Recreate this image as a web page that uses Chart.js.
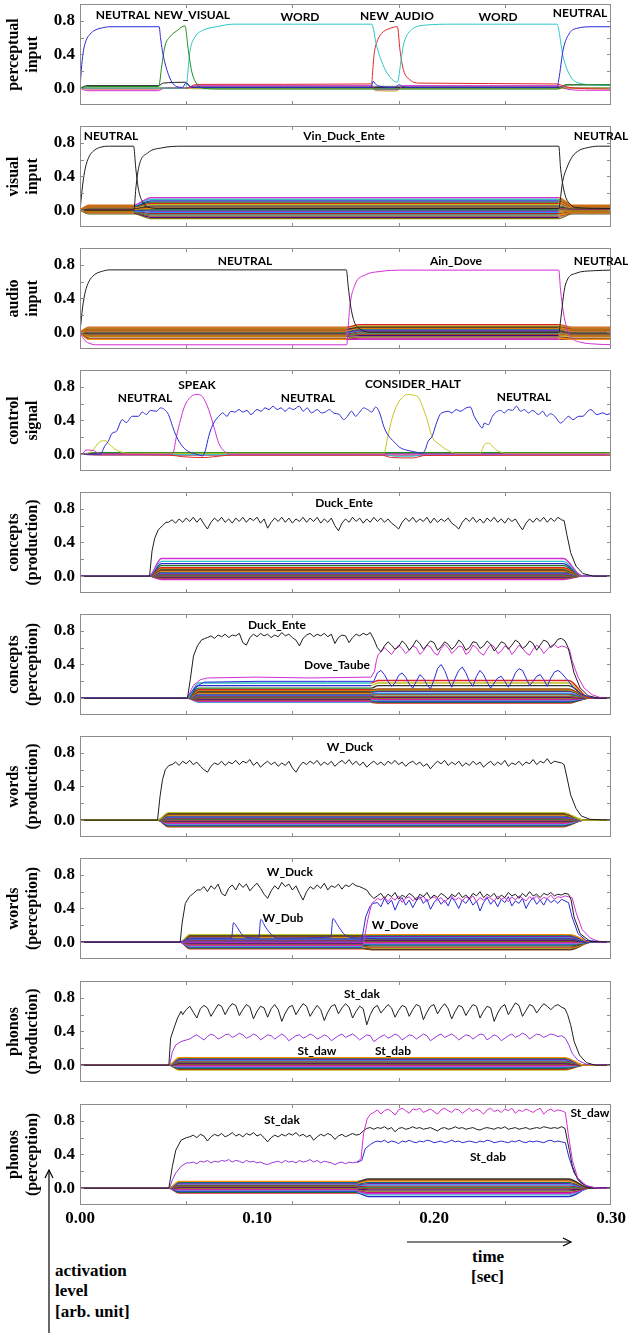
<!DOCTYPE html>
<html>
<head>
<meta charset="utf-8">
<script src="https://cdn.jsdelivr.net/npm/chart.js@4.4.1/dist/chart.umd.min.js"></script>
<style>
  body { margin: 0; background: #fff; width: 630px; height: 1335px; position: relative; overflow: hidden; }
  .panel { position: absolute; left: 0; width: 630px; }
  .lbl { position: absolute; font: bold 17px "Liberation Serif", serif; color: #000; line-height: 20px; white-space: nowrap; }
  svg { position: absolute; left: 0; top: 0; }
</style>
</head>
<body>
<svg width="630" height="1335">
  <line x1="407" y1="1242" x2="571" y2="1242" stroke="#000" stroke-width="1.2"/>
  <polyline points="563,1238 571,1242 563,1246" fill="none" stroke="#000" stroke-width="1.2"/>
  <line x1="49" y1="1170" x2="49" y2="1333" stroke="#000" stroke-width="1.2"/>
  <polyline points="45,1178 49,1170 53,1178" fill="none" stroke="#000" stroke-width="1.2"/>
</svg>
<div class="lbl" style="left:472px;top:1247px">time</div>
<div class="lbl" style="left:471px;top:1267px">[sec]</div>
<div class="lbl" style="left:55px;top:1261px">activation</div>
<div class="lbl" style="left:55px;top:1281px">level</div>
<div class="lbl" style="left:55px;top:1302px">[arb. unit]</div>
<script>
// axis setup
const xTickVals = [0, 0.1, 0.2, 0.3];
const yTickVals = [0, 0.4, 0.8];
const xMinorTicks = [0.06, 0.12, 0.18, 0.24];
const yMinorTicks = [0, 0.2, 0.4, 0.6, 0.8];
const panelTops = [4, 126, 248, 370, 492, 614, 736, 858, 981, 1104];
const panelTitles = [
  ['perceptual', 'input'], ['visual', 'input'], ['audio', 'input'], ['control', 'signal'],
  ['concepts', '(production)'], ['concepts', '(perception)'], ['words', '(production)'],
  ['words', '(perception)'], ['phonos', '(production)'], ['phonos', '(perception)']
];

const BLACK = '#1e1e1e', BLUE = '#2a2ad6', MAGENTA = '#d22ed2', CYAN = '#2ec6c6', GREEN = '#1c8c1c',
  RED = '#e02626', YELLOW = '#c4c41c', PURPLE = '#9a36dc', GRAY = '#9a9a9a';
const bandPalette = ['#d030d0', '#30c0c0', '#2828d0', '#1a7a1a', '#e02020', '#c0c020', '#303030', '#8b4513',
  '#ff8c00', '#007070', '#7a1fa2', '#1e90ff', '#b22222', '#2e8b57', '#a0522d', '#4b0082', '#808000', '#c71585'];
const warmPalette = ['#d2691e', '#b8860b', '#8b4513', '#ff8c00', '#a0522d', '#cd853f', '#556b2f', '#3a3a3a',
  '#b03060', '#6b8e23'];

// ---- panel 1: perceptual input
const p1Neutral = [[0,0],[0.001,0.28],[0.002,0.45],[0.0035,0.57],[0.0056,0.64],[0.0085,0.69],[0.0113,0.71],[0.017,0.73],
  [0.0447,0.73],[0.0455,0.6],[0.0465,0.45],[0.048,0.3],[0.05,0.16],[0.052,0.07],[0.0545,0.02],[0.058,0.01],[0.0597,0.06],
  [0.062,0.02],[0.065,0.01],[0.1645,0.01],[0.1655,0.08],[0.168,0.03],[0.178,0.01],[0.18,0.04],[0.184,0.01],[0.2695,0.01],
  [0.2705,0.1],[0.273,0.46],[0.2768,0.66],[0.2806,0.71],[0.29,0.73],[0.3,0.73]];
const p1NewVisual = [[0,0],[0.004,0.02],[0.0445,0.02],[0.0461,0.25],[0.048,0.5],[0.0508,0.61],[0.0546,0.68],[0.0593,0.74],
  [0.0612,0.45],[0.0631,0.2],[0.066,0.05],[0.0697,0.0],[0.08,-0.01],[0.27,-0.01],[0.275,0.04],[0.3,0.04]];
const p1Word = [[0,0],[0.0597,0],[0.0622,0.45],[0.065,0.61],[0.0697,0.69],[0.0772,0.73],[0.0866,0.76],[0.1648,0.76],
  [0.1676,0.5],[0.1704,0.32],[0.1732,0.19],[0.1793,0.07],[0.1815,0.35],[0.1826,0.5],[0.1845,0.62],[0.1882,0.71],
  [0.1957,0.75],[0.21,0.76],[0.2694,0.76],[0.273,0.37],[0.2768,0.15],[0.2806,0.07],[0.29,0.04],[0.3,0.03]];
const p1NewAudio = [[0,0],[0.004,-0.01],[0.044,-0.01],[0.05,0],[0.0597,0],[0.066,0.045],[0.1648,0.05],[0.1652,0.15],
  [0.1661,0.39],[0.1676,0.54],[0.1704,0.65],[0.1751,0.71],[0.1793,0.73],[0.1808,0.45],[0.1827,0.22],[0.1864,0.1],
  [0.1921,0.06],[0.2694,0.05],[0.274,0.02],[0.28,0.0],[0.3,-0.01]];
const p1Pink = [[0,0],[0.004,-0.03],[0.0445,-0.03],[0.047,0.0],[0.0597,0.0],[0.066,0.03],[0.1648,0.03],[0.167,-0.02],
  [0.179,-0.02],[0.183,0.03],[0.2694,0.03],[0.275,-0.01],[0.285,-0.025],[0.3,-0.025]];
const p1Dark = [[0,0],[0.004,0.03],[0.0445,0.03],[0.047,0.06],[0.0597,0.07],[0.063,0.01],[0.27,0.01],[0.275,0.04],[0.3,0.04]];
const p1Olive = [[0,0],[0.1645,0],[0.167,-0.03],[0.178,-0.035],[0.182,0],[0.3,0]];
const p1BandTimes = [0, 0.0597, 0.066, 0.2694, 0.275, 0.3];
const p1BandLevels = [0.02, 0.012, 0.004, -0.004];

// ---- panel 2: visual input
const p2Neutral = [[0,0],[0.0015,0.3],[0.003,0.5],[0.005,0.63],[0.008,0.71],[0.012,0.75],[0.016,0.76],[0.0303,0.76],
  [0.0315,0.5],[0.033,0.25],[0.0353,0.1],[0.038,0.04],[0.045,0.02],[0.2705,0.02],[0.2715,0.15],[0.2725,0.32],[0.275,0.5],
  [0.2783,0.64],[0.282,0.71],[0.2862,0.74],[0.293,0.76],[0.3,0.76]];
const p2Duck = [[0,0],[0.0305,0],[0.0315,0.25],[0.0333,0.52],[0.0383,0.68],[0.0462,0.74],[0.0581,0.76],[0.2705,0.76],
  [0.2715,0.5],[0.2728,0.3],[0.2745,0.15],[0.277,0.07],[0.28,0.03],[0.3,0.02]];
const p2BandTimes = [0, 0.005, 0.0305, 0.04, 0.2705, 0.278, 0.3];
const p2BandLevels = [[0.06,0.15],[0.055,0.13],[0.05,0.11],[0.045,0.095],[0.04,0.08],[0.03,0.065],[0.025,0.05],[0.02,0.035],
  [0.01,0.02],[0.005,0.005],[0.0,-0.01],[-0.01,-0.025],[-0.015,-0.04],[-0.02,-0.055],[-0.03,-0.07],[-0.035,-0.085],[-0.045,-0.1]];

// ---- panel 3: audio input
const p3Neutral = [[0,0],[0.0015,0.3],[0.003,0.48],[0.005,0.6],[0.008,0.68],[0.012,0.72],[0.017,0.74],[0.1505,0.74],
  [0.1515,0.55],[0.153,0.3],[0.155,0.12],[0.158,0.04],[0.165,0.0],[0.2707,0.0],[0.2713,0.1],[0.2742,0.56],[0.2802,0.7],
  [0.2901,0.73],[0.3,0.737]];
const p3Dove = [[0,0],[0.002,-0.08],[0.005,-0.13],[0.01,-0.15],[0.1507,-0.15],[0.1515,0.05],[0.1523,0.28],[0.1553,0.56],
  [0.1612,0.68],[0.1691,0.72],[0.183,0.737],[0.2705,0.737],[0.2715,0.5],[0.273,0.25],[0.275,0.05],[0.278,-0.07],
  [0.283,-0.12],[0.29,-0.14],[0.3,-0.15]];
const p3BandTimes = [0, 0.005, 0.1505, 0.158, 0.2705, 0.278, 0.3];
const p3BandLevels = [[0.06,0.09],[0.05,0.075],[0.04,0.065],[0.03,0.055],[0.02,0.045],[0.01,0.035],[0.0,0.025],
  [-0.01,0.015],[-0.02,0.005],[-0.03,-0.01],[-0.04,-0.025],[-0.05,-0.04],[-0.07,-0.055],[-0.085,-0.07],[-0.085,-0.085]];

// ---- panel 4: control signal
const p4Neutral = [[0,0],[0.0114,0.0],[0.0141,0.1],[0.0159,0.15],[0.0182,0.25],[0.0205,0.27],[0.0239,0.41],[0.0261,0.375],
  [0.0295,0.45],[0.033,0.45],[0.0352,0.5],[0.0375,0.47],[0.0398,0.52],[0.0432,0.51],[0.0455,0.55],[0.0477,0.53],[0.05,0.47],
  [0.0523,0.33],[0.0545,0.21],[0.058,0.09],[0.0614,0.03],[0.0659,0.0],[0.0693,-0.02],[0.0709,0.05],[0.0727,0.21],[0.075,0.35],
  [0.0784,0.45],[0.0807,0.49],[0.083,0.45],[0.0852,0.51],[0.0875,0.5],[0.0898,0.53],[0.092,0.5],[0.0943,0.52],[0.0966,0.47],
  [0.1,0.53],[0.1023,0.51],[0.1045,0.55],[0.1068,0.53],[0.1091,0.57],[0.1114,0.53],[0.1136,0.55],[0.1159,0.51],[0.1182,0.55],
  [0.1205,0.53],[0.1239,0.57],[0.1261,0.51],[0.1284,0.55],[0.1307,0.49],[0.1341,0.53],[0.1364,0.49],[0.1386,0.5],[0.1409,0.53],
  [0.1432,0.49],[0.1466,0.47],[0.1489,0.41],[0.1511,0.45],[0.1534,0.51],[0.1557,0.45],[0.158,0.5],[0.1602,0.55],[0.1625,0.53],
  [0.1648,0.5],[0.167,0.56],[0.1693,0.49],[0.1716,0.33],[0.1739,0.23],[0.1773,0.15],[0.1807,0.08],[0.1841,0.05],[0.1886,0.03],
  [0.1932,0.01],[0.195,0.05],[0.1966,0.15],[0.1989,0.21],[0.2011,0.35],[0.2034,0.47],[0.2057,0.5],[0.208,0.51],[0.2102,0.49],
  [0.2125,0.53],[0.2148,0.51],[0.2182,0.55],[0.2205,0.56],[0.2227,0.45],[0.225,0.37],[0.2273,0.31],[0.2284,0.37],[0.2307,0.35],
  [0.233,0.45],[0.2352,0.5],[0.2375,0.52],[0.2398,0.49],[0.242,0.53],[0.2443,0.52],[0.2466,0.57],[0.2489,0.51],[0.2511,0.53],
  [0.2534,0.49],[0.2557,0.52],[0.2591,0.47],[0.2614,0.51],[0.2636,0.45],[0.2659,0.48],[0.2682,0.45],[0.2716,0.37],[0.2739,0.41],
  [0.2761,0.45],[0.2784,0.41],[0.2818,0.45],[0.2841,0.45],[0.2864,0.5],[0.2886,0.53],[0.292,0.47],[0.2955,0.49],[0.2977,0.47],
  [0.3,0.49]];
const p4Speak = [[0,0],[0.0011,0],[0.0034,0.05],[0.008,0.04],[0.0114,0.0],[0.0523,0.0],[0.0545,0.21],[0.0568,0.41],
  [0.0591,0.57],[0.0625,0.68],[0.0659,0.71],[0.0693,0.68],[0.0727,0.53],[0.0761,0.29],[0.0784,0.13],[0.0818,0.03],
  [0.0852,0.0],[0.3,0.0]];
const p4Halt = [[0,0],[0.0023,0],[0.0068,0.04],[0.0114,0.15],[0.0141,0.16],[0.017,0.11],[0.0205,0.05],[0.0273,0.01],
  [0.1716,0.01],[0.1739,0.21],[0.1761,0.41],[0.1795,0.6],[0.183,0.69],[0.1852,0.71],[0.1886,0.7],[0.1909,0.68],[0.1955,0.45],
  [0.1989,0.21],[0.2034,0.11],[0.2091,0.03],[0.2125,0.01],[0.2261,0.01],[0.2284,0.11],[0.2307,0.13],[0.2352,0.05],
  [0.2409,0.01],[0.3,0.01]];
const p4Red = [[0,0],[0.05,-0.01],[0.058,-0.03],[0.07,-0.04],[0.08,-0.02],[0.086,-0.01],[0.17,-0.01],[0.176,-0.04],
  [0.188,-0.045],[0.195,-0.015],[0.3,-0.01]];
const p4Cyan = [[0,0],[0.01,-0.005],[0.172,-0.005],[0.178,-0.025],[0.188,-0.025],[0.194,-0.005],[0.3,-0.005]];
const p4Green = [[0,0],[0.01,0.02],[0.3,0.02]];
const p4Black = [[0,0],[0.01,0.012],[0.3,0.012]];
const p4DarkRed = [[0,0],[0.01,-0.012],[0.3,-0.012]];

// ---- noisy activations, sampled every 2 ms
const noiseStep = 0.002;

// panel 5: concepts (production)
const p5DuckRise = [[0,0],[0.0393,0],[0.0407,0.3],[0.0422,0.45],[0.0442,0.55],[0.0466,0.6],[0.0486,0.64]];
const p5DuckStart = 0.05;
const p5Duck = [0.64,0.67,0.63,0.68,0.64,0.69,0.65,0.70,0.64,0.69,
  0.62,0.56,0.64,0.69,0.65,0.70,0.64,0.68,0.63,0.69,
  0.65,0.70,0.64,0.69,0.66,0.70,0.63,0.68,0.57,0.64,
  0.69,0.65,0.70,0.64,0.69,0.63,0.68,0.65,0.70,0.64,
  0.69,0.65,0.70,0.63,0.68,0.64,0.69,0.60,0.54,0.63,
  0.68,0.64,0.70,0.65,0.69,0.63,0.68,0.64,0.70,0.65,
  0.69,0.64,0.68,0.63,0.60,0.56,0.64,0.69,0.65,0.70,
  0.64,0.68,0.65,0.70,0.63,0.69,0.64,0.68,0.65,0.69,
  0.63,0.60,0.56,0.64,0.69,0.65,0.70,0.64,0.68,0.63,
  0.69,0.65,0.70,0.64,0.68,0.63,0.69,0.65,0.68,0.61,
  0.55,0.63,0.68,0.64,0.69,0.65,0.70,0.64,0.69,0.65,0.70,0.67];
const p5DuckFall = [[0.2735,0.66],[0.2752,0.48],[0.2772,0.28],[0.2802,0.12],[0.2842,0.03],[0.2901,0],[0.3,0]];
const p5BandTimes = [0, 0.039, 0.046, 0.273, 0.284, 0.3];
const p5BandLevels = [0.21, 0.175, 0.15, 0.125, 0.1, 0.09, 0.08, 0.07, 0.06, 0.05, 0.04, 0.03, 0.02, 0.01, 0.0,
  -0.01, -0.02, -0.03, -0.04];

// panel 6: concepts (perception)
const p6DuckRise = [[0,0],[0.0607,0],[0.0623,0.22],[0.0641,0.5],[0.0663,0.62],[0.0686,0.69],[0.0705,0.71]];
const p6DuckStart = 0.072;
const p6Duck = [0.72,0.74,0.71,0.75,0.73,0.76,0.72,0.75,0.74,0.77,
  0.66,0.63,0.72,0.76,0.73,0.77,0.74,0.76,0.72,0.75,
  0.73,0.78,0.74,0.76,0.72,0.69,0.62,0.71,0.75,0.77,
  0.73,0.76,0.74,0.77,0.73,0.76,0.65,0.72,0.75,0.74,
  0.66,0.72,0.76,0.74,0.77,0.75,0.78,
  0.70,0.60,0.55,0.62,0.67,0.63,0.58,0.61,0.68,0.64,
  0.57,0.62,0.69,0.65,0.58,0.63,0.68,0.66,0.57,0.61,
  0.67,0.64,0.58,0.62,0.69,0.65,0.57,0.60,0.67,0.66,
  0.59,0.62,0.68,0.64,0.56,0.61,0.67,0.65,0.58,0.63,
  0.69,0.66,0.59,0.62,0.68,0.65,0.57,0.63,0.69,0.67,
  0.60,0.64,0.70,0.71,0.68];
const p6DuckFall = [[0.2758,0.6],[0.2775,0.45],[0.2791,0.3],[0.2826,0.12],[0.2871,0.03],[0.2927,0],[0.3,0]];
const p6DoveRise = [[0,0],[0.0605,0],[0.064,0.15],[0.068,0.22],[0.072,0.24],[0.1,0.25],[0.13,0.24],[0.1645,0.25],
  [0.1664,0.32],[0.1675,0.45],[0.1685,0.52]];
const p6DoveStart = 0.17;
const p6Dove = [0.55,0.60,0.56,0.52,0.58,0.63,0.59,0.53,0.57,0.62,
  0.60,0.52,0.56,0.63,0.61,0.54,0.51,0.59,0.64,0.60,
  0.53,0.57,0.62,0.61,0.52,0.55,0.63,0.60,0.54,0.51,
  0.58,0.64,0.61,0.53,0.56,0.62,0.60,0.52,0.57,0.63,
  0.59,0.54,0.51,0.58,0.63,0.60,0.53,0.58,0.62,0.64,
  0.60,0.62,0.61];
const p6DoveFall = [[0.2765,0.58],[0.278,0.45],[0.2814,0.25],[0.2848,0.12],[0.2894,0.04],[0.295,0],[0.3,0]];
const p6BlueRise = [[0,0],[0.0605,0],[0.065,0.13],[0.07,0.19],[0.1,0.2],[0.14,0.2],[0.1645,0.2]];
const p6BlueStart = 0.166;
const p6Blue = [0.20,0.30,0.33,0.28,0.20,0.14,0.18,0.27,0.30,0.25,
  0.17,0.12,0.20,0.28,0.24,0.16,0.11,0.22,0.35,0.40,
  0.33,0.22,0.13,0.24,0.33,0.37,0.30,0.20,0.14,0.26,
  0.33,0.28,0.19,0.12,0.18,0.24,0.26,0.20,0.13,0.20,
  0.30,0.35,0.33,0.24,0.15,0.20,0.26,0.28,0.22,0.14,
  0.24,0.31,0.33,0.30,0.25,0.20];
const p6BlueFall = [[0.279,0.12],[0.283,0.05],[0.29,0],[0.3,0]];
const p6BandTimes = [0, 0.0605, 0.067, 0.1645, 0.1685, 0.276, 0.288, 0.3];
const p6BandLevels = [[0.18,0.21],[0.15,0.18],[0.12,0.15],[0.1,0.11],[0.09,0.1],[0.08,0.09],[0.07,0.08],[0.06,0.06],
  [0.05,0.05],[0.04,0.04],[0.03,0.02],[0.02,0.01],[0.01,0.0],[0.0,-0.01],[-0.01,-0.02],[-0.02,-0.03],[-0.03,-0.04],
  [-0.04,-0.05],[-0.05,-0.06]];

// panel 7: words (production)
const p7DuckRise = [[0,0],[0.0438,0],[0.0452,0.28],[0.0466,0.48],[0.0482,0.6],[0.0502,0.65]];
const p7DuckStart = 0.052;
const p7Duck = [0.66,0.69,0.65,0.70,0.67,0.71,0.66,0.69,0.64,0.60,
  0.57,0.64,0.68,0.66,0.70,0.65,0.69,0.67,0.71,0.66,
  0.70,0.68,0.72,0.65,0.69,0.63,0.67,0.70,0.66,0.69,
  0.64,0.68,0.65,0.70,0.62,0.57,0.64,0.69,0.66,0.70,
  0.67,0.71,0.65,0.69,0.66,0.70,0.64,0.68,0.71,0.67,
  0.72,0.66,0.70,0.65,0.69,0.63,0.67,0.70,0.66,0.69,
  0.65,0.70,0.67,0.71,0.66,0.69,0.64,0.68,0.70,0.66,
  0.69,0.64,0.67,0.61,0.66,0.70,0.67,0.71,0.65,0.69,
  0.66,0.70,0.64,0.68,0.65,0.70,0.66,0.69,0.63,0.67,
  0.70,0.65,0.69,0.66,0.71,0.64,0.68,0.66,0.70,0.65,
  0.69,0.67,0.72,0.66,0.70,0.68,0.73,0.67,0.70,0.69,0.68];
const p7DuckFall = [[0.2735,0.66],[0.2752,0.5],[0.2772,0.3],[0.2802,0.14],[0.2832,0.05],[0.2881,0.01],[0.3,0]];
const p7BandTimes = [0, 0.0438, 0.05, 0.273, 0.285, 0.3];
const p7BandLevels = [0.09, 0.08, 0.07, 0.06, 0.05, 0.04, 0.03, 0.02, 0.01, 0.0, -0.01, -0.02, -0.03, -0.04, -0.05,
  -0.06, -0.07, -0.08];

// panel 8: words (perception)
const p8DuckRise = [[0,0],[0.0566,0],[0.0577,0.23],[0.0595,0.46],[0.0618,0.54],[0.0641,0.58],[0.0662,0.62]];
const p8DuckStart = 0.068;
const p8Duck = [0.62,0.66,0.60,0.67,0.63,0.69,0.58,0.55,0.64,0.68,
  0.62,0.70,0.65,0.69,0.61,0.66,0.70,0.64,0.57,0.52,
  0.61,0.67,0.63,0.71,0.66,0.69,0.62,0.67,0.58,0.50,
  0.60,0.66,0.63,0.68,0.64,0.70,0.62,0.67,0.65,0.69,
  0.63,0.68,0.66,0.70,0.67,0.66,
  0.64,0.62,0.56,0.52,0.55,0.58,0.52,0.57,0.54,0.59,
  0.51,0.56,0.53,0.58,0.55,0.50,0.57,0.54,0.59,0.52,
  0.56,0.53,0.58,0.55,0.51,0.57,0.54,0.59,0.53,0.56,
  0.52,0.58,0.55,0.60,0.53,0.57,0.54,0.58,0.51,0.56,
  0.53,0.59,0.55,0.57,0.52,0.58,0.54,0.60,0.55,0.57,
  0.53,0.58,0.56,0.59,0.55,0.57,0.56,0.58,0.57];
const p8DuckFall = [[0.2775,0.5],[0.2791,0.3],[0.2826,0.1],[0.2882,0.01],[0.3,0]];
const p8DoveRise = [[0,0],[0.1603,0],[0.1626,0.27],[0.1648,0.46],[0.1682,0.52]];
const p8DoveStart = 0.17;
const p8Dove = [0.50,0.54,0.48,0.53,0.50,0.55,0.47,0.52,0.54,0.49,
  0.53,0.51,0.55,0.48,0.52,0.54,0.50,0.53,0.47,0.52,
  0.55,0.50,0.53,0.49,0.54,0.51,0.55,0.48,0.53,0.50,
  0.54,0.52,0.49,0.55,0.51,0.53,0.48,0.54,0.50,0.55,
  0.52,0.49,0.54,0.51,0.55,0.50,0.53,0.52,0.56,0.51,
  0.54,0.53,0.55,0.54,0.53];
const p8DoveFall = [[0.2803,0.35],[0.2837,0.15],[0.2882,0.05],[0.2939,0],[0.3,0]];
const p8BlueRise = [[0,0],[0.159,0],[0.1614,0.3],[0.1637,0.42],[0.1655,0.46]];
const p8BlueStart = 0.168;
const p8Blue = [0.47,0.42,0.52,0.45,0.50,0.38,0.48,0.53,0.44,0.50,
  0.41,0.49,0.54,0.46,0.51,0.39,0.47,0.52,0.45,0.50,
  0.43,0.53,0.48,0.40,0.50,0.46,0.52,0.44,0.49,0.37,
  0.47,0.53,0.45,0.50,0.42,0.51,0.47,0.54,0.43,0.49,
  0.46,0.52,0.40,0.48,0.53,0.45,0.50,0.44,0.52,0.47,
  0.50,0.46,0.51,0.49,0.47];
const p8BlueFall = [[0.278,0.3],[0.2814,0.1],[0.2859,0.02],[0.3,0]];
const p8Dub = [[0,0],[0.0566,0],[0.062,0.05],[0.0856,0.05],[0.0867,0.23],[0.089,0.17],[0.0912,0.1],[0.0935,0.06],
  [0.101,0.05],[0.1021,0.27],[0.1048,0.18],[0.1082,0.09],[0.1116,0.05],[0.1417,0.06],[0.1429,0.28],[0.1456,0.2],
  [0.149,0.1],[0.1524,0.06],[0.16,0.05],[0.17,0.04],[0.277,0.04],[0.285,0],[0.3,0]];
const p8BandTimes = [0, 0.0566, 0.062, 0.16, 0.165, 0.277, 0.289, 0.3];
const p8BandLevels = [[0.09,0.09],[0.08,0.08],[0.07,0.07],[0.06,0.06],[0.05,0.05],[0.04,0.04],[0.03,0.03],[0.02,0.02],
  [0.01,0.01],[0.0,0.0],[-0.01,-0.01],[-0.02,-0.02],[-0.03,-0.03],[-0.04,-0.045],[-0.05,-0.06],[-0.06,-0.07],
  [-0.07,-0.08],[-0.08,-0.09]];

// panel 9: phonos (production)
const p9DakRise = [[0,0],[0.0502,0],[0.0512,0.32],[0.0531,0.44],[0.0551,0.56],[0.0571,0.64]];
const p9DakStart = 0.058;
const p9Dak = [0.60,0.66,0.70,0.63,0.56,0.67,0.71,0.68,0.58,0.65,
  0.72,0.70,0.60,0.68,0.73,0.71,0.59,0.66,0.72,0.69,
  0.55,0.64,0.70,0.68,0.57,0.67,0.72,0.66,0.52,0.62,
  0.69,0.71,0.60,0.67,0.73,0.70,0.58,0.65,0.71,0.66,
  0.53,0.63,0.70,0.72,0.61,0.68,0.73,0.69,0.56,0.64,
  0.70,0.67,0.48,0.60,0.68,0.71,0.62,0.67,0.72,0.68,
  0.57,0.65,0.71,0.69,0.58,0.66,0.72,0.70,0.54,0.63,
  0.70,0.72,0.61,0.68,0.73,0.67,0.55,0.64,0.71,0.69,
  0.59,0.66,0.72,0.70,0.56,0.64,0.70,0.68,0.52,0.62,
  0.69,0.72,0.60,0.67,0.74,0.71,0.58,0.65,0.72,0.70,
  0.62,0.68,0.73,0.70,0.66,0.70,0.72,0.69,0.67];
const p9DakFall = [[0.2755,0.6],[0.2772,0.48],[0.2792,0.28],[0.2822,0.12],[0.2861,0.03],[0.2911,0],[0.3,0]];
const p9PurpleRise = [[0,0],[0.0506,0],[0.0522,0.16],[0.0541,0.24],[0.0571,0.28],[0.0601,0.3]];
const p9PurpleStart = 0.062;
const p9Purple = [0.31,0.34,0.36,0.33,0.30,0.34,0.37,0.35,0.31,0.33,
  0.36,0.37,0.33,0.35,0.38,0.36,0.32,0.34,0.37,0.35,
  0.30,0.33,0.36,0.35,0.31,0.34,0.37,0.34,0.29,0.32,
  0.35,0.36,0.32,0.34,0.37,0.35,0.31,0.33,0.36,0.34,
  0.29,0.32,0.35,0.37,0.33,0.35,0.37,0.34,0.30,0.33,
  0.36,0.35,0.28,0.31,0.34,0.36,0.32,0.34,0.37,0.35,
  0.30,0.33,0.36,0.35,0.31,0.34,0.37,0.35,0.29,0.32,
  0.35,0.37,0.33,0.35,0.37,0.34,0.30,0.33,0.36,0.35,
  0.31,0.34,0.37,0.36,0.30,0.33,0.36,0.34,0.29,0.32,
  0.35,0.37,0.33,0.35,0.38,0.36,0.31,0.34,0.37,0.36,
  0.33,0.35,0.37,0.36,0.34,0.35];
const p9PurpleFall = [[0.2742,0.32],[0.2762,0.24],[0.2781,0.14],[0.2812,0.06],[0.2861,0.01],[0.3,0]];
const p9BandTimes = [0, 0.0502, 0.056, 0.274, 0.285, 0.3];
const p9BandLevels = [0.09, 0.08, 0.07, 0.06, 0.05, 0.04, 0.03, 0.02, 0.01, 0.0, -0.01, -0.02, -0.03, -0.04, -0.05, -0.06];

// panel 10: phonos (perception)
const p10DakRise = [[0,0],[0.0502,0],[0.0522,0.26],[0.0541,0.45],[0.0571,0.57],[0.0601,0.6]];
const p10DakStart = 0.062;
const p10Dak = [0.61,0.63,0.60,0.64,0.62,0.56,0.61,0.64,0.62,0.65,
  0.61,0.63,0.66,0.62,0.64,0.61,0.65,0.63,0.66,0.62,
  0.64,0.60,0.55,0.60,0.63,0.61,0.64,0.62,0.65,0.63,
  0.66,0.62,0.64,0.61,0.63,0.57,0.61,0.64,0.62,0.65,
  0.63,0.58,0.62,0.64,0.61,0.63,0.65,0.63,
  0.64,0.68,0.71,0.72,0.70,0.72,0.71,0.73,0.70,0.72,
  0.67,0.71,0.72,0.70,0.71,0.73,0.71,0.72,0.70,0.71,
  0.72,0.70,0.68,0.71,0.72,0.70,0.71,0.73,0.71,0.72,
  0.70,0.71,0.72,0.70,0.69,0.71,0.72,0.71,0.70,0.72,
  0.71,0.73,0.70,0.71,0.72,0.70,0.71,0.72,0.70,0.71,
  0.72,0.71,0.73,0.72,0.71,0.72,0.71,0.73,0.71];
const p10DakFall = [[0.2755,0.55],[0.2765,0.45],[0.2782,0.26],[0.2812,0.1],[0.2861,0.02],[0.2921,0],[0.3,0]];
const p10SharedRise = [[0,0],[0.0506,0],[0.0522,0.1],[0.0541,0.18],[0.0571,0.26],[0.0601,0.3]];
const p10SharedStart = 0.062;
const p10Shared = [0.30,0.31,0.29,0.32,0.31,0.33,0.30,0.32,0.31,0.33,
  0.32,0.34,0.31,0.33,0.32,0.30,0.33,0.31,0.32,0.30,
  0.31,0.29,0.28,0.30,0.31,0.32,0.30,0.33,0.31,0.32,
  0.30,0.33,0.31,0.32,0.34,0.31,0.33,0.30,0.32,0.31,
  0.30,0.28,0.30,0.31,0.29,0.31,0.30,0.31];
const p10SharedFall = [[0.1575,0.31]];
const p10DawRise = [[0.1565,0.31],[0.1588,0.35],[0.1602,0.65],[0.1622,0.82],[0.1641,0.88]];
const p10DawStart = 0.166;
const p10Daw = [0.90,0.93,0.88,0.92,0.94,0.91,0.87,0.93,0.95,0.92,
  0.89,0.94,0.93,0.95,0.90,0.92,0.94,0.91,0.88,0.93,
  0.95,0.92,0.90,0.94,0.93,0.89,0.92,0.95,0.91,0.94,
  0.92,0.88,0.93,0.95,0.91,0.93,0.90,0.94,0.92,0.95,
  0.89,0.93,0.91,0.94,0.92,0.90,0.93,0.95,0.88,0.92,
  0.94,0.91,0.93,0.92];
const p10DawFall = [[0.2742,0.9],[0.2758,0.65],[0.2782,0.33],[0.2812,0.12],[0.2861,0.03],[0.2921,0],[0.3,0]];
const p10DabRise = [[0.1565,0.31],[0.1592,0.33],[0.1612,0.47],[0.1641,0.52],[0.1665,0.55]];
const p10DabStart = 0.168;
const p10Dab = [0.56,0.55,0.57,0.54,0.56,0.55,0.53,0.56,0.55,0.57,
  0.55,0.54,0.56,0.55,0.57,0.56,0.54,0.55,0.56,0.54,
  0.55,0.57,0.55,0.56,0.54,0.55,0.56,0.55,0.54,0.56,
  0.55,0.57,0.56,0.54,0.55,0.56,0.55,0.54,0.56,0.55,
  0.57,0.55,0.54,0.56,0.55,0.56,0.55,0.54,0.56,0.57,
  0.55,0.56,0.55];
const p10DabFall = [[0.2742,0.54],[0.2762,0.37],[0.2792,0.18],[0.2832,0.06],[0.2881,0.01],[0.3,0]];
const p10BandTimes = [0, 0.0502, 0.056, 0.157, 0.163, 0.276, 0.288, 0.3];
const p10BandLevels = [[0.08,0.11],[0.07,0.1],[0.06,0.085],[0.05,0.07],[0.04,0.055],[0.03,0.04],[0.02,0.025],[0.01,0.01],
  [0.0,-0.005],[-0.01,-0.02],[-0.02,-0.035],[-0.03,-0.05],[-0.04,-0.065],[-0.05,-0.08],[-0.06,-0.1]];

// annotation labels: [text, time, activation]
const notes = [
  [['NEUTRAL',0.0243,0.87],['NEW_VISUAL',0.0633,0.87],['WORD',0.1243,0.85],['NEW_AUDIO',0.1791,0.86],['WORD',0.2362,0.85],['NEUTRAL',0.2825,0.895]],
  [['NEUTRAL',0.0175,0.88],['Vin_Duck_Ente',0.1492,0.88],['NEUTRAL',0.2944,0.88]],
  [['NEUTRAL',0.0932,0.85],['Ain_Dove',0.2124,0.85],['NEUTRAL',0.2944,0.85]],
  [['NEUTRAL',0.0367,0.67],['SPEAK',0.0661,0.82],['NEUTRAL',0.1288,0.66],['CONSIDER_HALT',0.1881,0.835],['NEUTRAL',0.2508,0.68]],
  [['Duck_Ente',0.1492,0.87]],
  [['Duck_Ente',0.1113,0.87],['Dove_Taube',0.1452,0.39]],
  [['W_Duck',0.1525,0.87]],
  [['W_Duck',0.1186,0.83],['W_Dub',0.1147,0.28],['W_Dove',0.178,0.205]],
  [['St_dak',0.1593,0.85],['St_daw',0.1339,0.17],['St_dab',0.1768,0.17]],
  [['St_dak',0.1141,0.81],['St_daw',0.2881,0.89],['St_dab',0.2305,0.37]]
];

// ---- helpers
const pts = arr => arr.map(([x, y]) => ({ x, y }));
const noisy = (rise, start, vals, fall) =>
  pts(rise).concat(vals.map((y, i) => ({ x: start + i * noiseStep, y })), pts(fall));

function line(data, color, width) {
  return { data, borderColor: color, borderWidth: width || 1, pointRadius: 0, fill: false };
}
// noisy traces keep their jagged straight segments
function jagged(data, color) {
  const ds = line(data, color, 1);
  ds.cubicInterpolationMode = 'default';
  ds.tension = 0;
  return ds;
}

// one band line per level; values follow the panel's key times
function band(times, levels, valuesOf, colorOf) {
  return levels.map((lv, i) => {
    const ys = valuesOf(lv);
    const ds = line(times.map((t, k) => ({ x: t, y: ys[k] })), colorOf(i, 0), 1.3);
    ds.segment = { borderColor: c => colorOf(i, c.p0.parsed.x) };
    return ds;
  });
}
const single = lv => [0, 0, lv, lv, 0, 0];
const twoPhase = ([a, b]) => [0, 0, a, a, b, b, 0, 0];
const backAndForth = ([a, b]) => [0, a, a, b, b, a, a];
const pal = (p, off) => i => p[(i + off) % p.length];

const framePlugin = {
  id: 'frame',
  afterDraw(chart) {
    const { ctx, chartArea: a, scales: { x, y } } = chart;
    ctx.save();
    ctx.strokeStyle = '#8c8c8c';
    ctx.lineWidth = 1;
    ctx.strokeRect(Math.round(a.left) + 0.5, Math.round(a.top) + 0.5, Math.round(a.width) - 1, Math.round(a.height) - 1);
    ctx.beginPath();
    xMinorTicks.forEach(v => {
      const px = Math.round(x.getPixelForValue(v)) + 0.5;
      ctx.moveTo(px, a.top); ctx.lineTo(px, a.top + 4);
      ctx.moveTo(px, a.bottom); ctx.lineTo(px, a.bottom - 4);
    });
    yMinorTicks.forEach(v => {
      const py = Math.round(y.getPixelForValue(v)) + 0.5;
      ctx.moveTo(a.left, py); ctx.lineTo(a.left + 4, py);
      ctx.moveTo(a.right, py); ctx.lineTo(a.right - 4, py);
    });
    ctx.stroke();
    ctx.restore();
  }
};

const notesPlugin = {
  id: 'notes',
  afterDraw(chart, args, opts) {
    const { ctx, scales: { x, y } } = chart;
    ctx.save();
    ctx.font = 'bold 12px Lato, "Open Sans", sans-serif';
    ctx.fillStyle = '#000';
    ctx.textAlign = 'center';
    ctx.textBaseline = 'middle';
    (opts.items || []).forEach(([txt, t, v]) => ctx.fillText(txt, x.getPixelForValue(t), y.getPixelForValue(v)));
    ctx.restore();
  }
};

const serif = '"Liberation Serif", "Times New Roman", serif';

// drop the extra room Chart.js keeps for the end labels
function noEdgePadding(s) {
  s.paddingTop = 0; s.paddingBottom = 0; s.paddingLeft = 0; s.paddingRight = 0;
}

function makePanel(idx, datasets, showX) {
  const withAxis = showX === true;
  const h = withAxis ? 135 : 109;
  const div = document.createElement('div');
  div.className = 'panel';
  div.style.top = (panelTops[idx] - 4) + 'px';
  div.style.height = h + 'px';
  const cv = document.createElement('canvas');
  cv.width = 630;
  cv.height = h;
  div.appendChild(cv);
  document.body.appendChild(div);

  new Chart(cv, {
    type: 'line',
    data: { datasets },
    options: {
      responsive: false,
      animation: false,
      events: [],
      devicePixelRatio: 1,
      layout: { autoPadding: false, padding: { top: 4, right: 19, bottom: withAxis ? 0 : 4, left: 0 } },
      elements: { line: { cubicInterpolationMode: 'monotone' }, point: { radius: 0 } },
      plugins: { legend: { display: false }, tooltip: { enabled: false }, notes: { items: notes[idx] } },
      scales: {
        x: {
          type: 'linear', min: 0, max: 0.3, display: withAxis,
          grid: { display: false, drawTicks: false }, border: { display: false },
          afterBuildTicks: s => { s.ticks = xTickVals.map(value => ({ value })); },
          afterFit: s => { if (withAxis) s.height = 30; noEdgePadding(s); },
          ticks: { padding: 3, maxRotation: 0, autoSkip: false, color: '#000',
            font: { family: serif, weight: 'bold', size: 17 }, callback: v => Number(v).toFixed(2) }
        },
        y: {
          min: -0.2, max: 1.0,
          grid: { display: false, drawTicks: false }, border: { display: false },
          afterBuildTicks: s => { s.ticks = yTickVals.map(value => ({ value })); },
          afterFit: s => { s.width = 80; noEdgePadding(s); },
          ticks: { padding: 5, color: '#000', font: { family: serif, weight: 'bold', size: 17 },
            callback: v => Number(v).toFixed(1) },
          title: { display: true, text: panelTitles[idx], color: '#000',
            font: { family: serif, weight: 'bold', size: 16 }, padding: { top: 4, bottom: 0 } }
        }
      }
    },
    plugins: [framePlugin, notesPlugin]
  });
}

// ---- build panels (first dataset is drawn on top)
makePanel(0, [
  line(pts(p1Neutral), BLUE), line(pts(p1NewVisual), GREEN), line(pts(p1Word), CYAN), line(pts(p1NewAudio), RED),
  line(pts(p1Pink), MAGENTA), line(pts(p1Dark), BLACK), line(pts(p1Olive), YELLOW),
  ...band(p1BandTimes, p1BandLevels, single, pal([GRAY, '#7a8a7a', '#a08a8a', '#8a8aa0'], 0))
]);

makePanel(1, [
  line(pts(p2Neutral), BLACK), line(pts(p2Duck), BLACK),
  ...band(p2BandTimes, p2BandLevels, backAndForth,
    (i, t) => (t >= 0.0305 && t < 0.2705) ? bandPalette[i % bandPalette.length] : warmPalette[i % warmPalette.length])
]);

makePanel(2, [
  line(pts(p3Neutral), BLACK), line(pts(p3Dove), MAGENTA),
  ...band(p3BandTimes, p3BandLevels, backAndForth,
    (i, t) => (t >= 0.1505 && t < 0.2705) ? bandPalette[(i + 4) % bandPalette.length] : warmPalette[i % warmPalette.length])
]);

makePanel(3, [
  line(pts(p4Neutral), BLUE), line(pts(p4Speak), MAGENTA), line(pts(p4Halt), YELLOW), line(pts(p4Red), RED),
  line(pts(p4Cyan), CYAN), line(pts(p4Green), GREEN), line(pts(p4Black), BLACK), line(pts(p4DarkRed), '#a03050')
]);

makePanel(4, [
  jagged(noisy(p5DuckRise, p5DuckStart, p5Duck, p5DuckFall), BLACK),
  ...band(p5BandTimes, p5BandLevels, single, pal(bandPalette, 0))
]);

makePanel(5, [
  jagged(noisy(p6DuckRise, p6DuckStart, p6Duck, p6DuckFall), BLACK),
  jagged(noisy(p6DoveRise, p6DoveStart, p6Dove, p6DoveFall), MAGENTA),
  jagged(noisy(p6BlueRise, p6BlueStart, p6Blue, p6BlueFall), BLUE),
  ...band(p6BandTimes, p6BandLevels, twoPhase,
    (i, t) => bandPalette[(i + (t >= 0.1645 ? 4 : 1)) % bandPalette.length])
]);

makePanel(6, [
  jagged(noisy(p7DuckRise, p7DuckStart, p7Duck, p7DuckFall), BLACK),
  ...band(p7BandTimes, p7BandLevels, single, pal(bandPalette, 5))
]);

makePanel(7, [
  jagged(noisy(p8DuckRise, p8DuckStart, p8Duck, p8DuckFall), BLACK),
  jagged(noisy(p8DoveRise, p8DoveStart, p8Dove, p8DoveFall), MAGENTA),
  jagged(noisy(p8BlueRise, p8BlueStart, p8Blue, p8BlueFall), BLUE),
  line(pts(p8Dub), BLUE),
  ...band(p8BandTimes, p8BandLevels, twoPhase,
    (i, t) => bandPalette[(i + (t >= 0.16 ? 8 : 5)) % bandPalette.length])
]);

makePanel(8, [
  jagged(noisy(p9DakRise, p9DakStart, p9Dak, p9DakFall), BLACK),
  jagged(noisy(p9PurpleRise, p9PurpleStart, p9Purple, p9PurpleFall), PURPLE),
  ...band(p9BandTimes, p9BandLevels, single, pal(bandPalette, 8))
]);

makePanel(9, [
  jagged(noisy(p10DawRise, p10DawStart, p10Daw, p10DawFall), MAGENTA),
  jagged(noisy(p10DakRise, p10DakStart, p10Dak, p10DakFall), BLACK),
  jagged(noisy(p10DabRise, p10DabStart, p10Dab, p10DabFall), BLUE),
  jagged(noisy(p10SharedRise, p10SharedStart, p10Shared, p10SharedFall), PURPLE),
  ...band(p10BandTimes, p10BandLevels, twoPhase,
    (i, t) => bandPalette[(i + (t >= 0.157 ? 6 : 8)) % bandPalette.length])
], true);
</script>
</body>
</html>
